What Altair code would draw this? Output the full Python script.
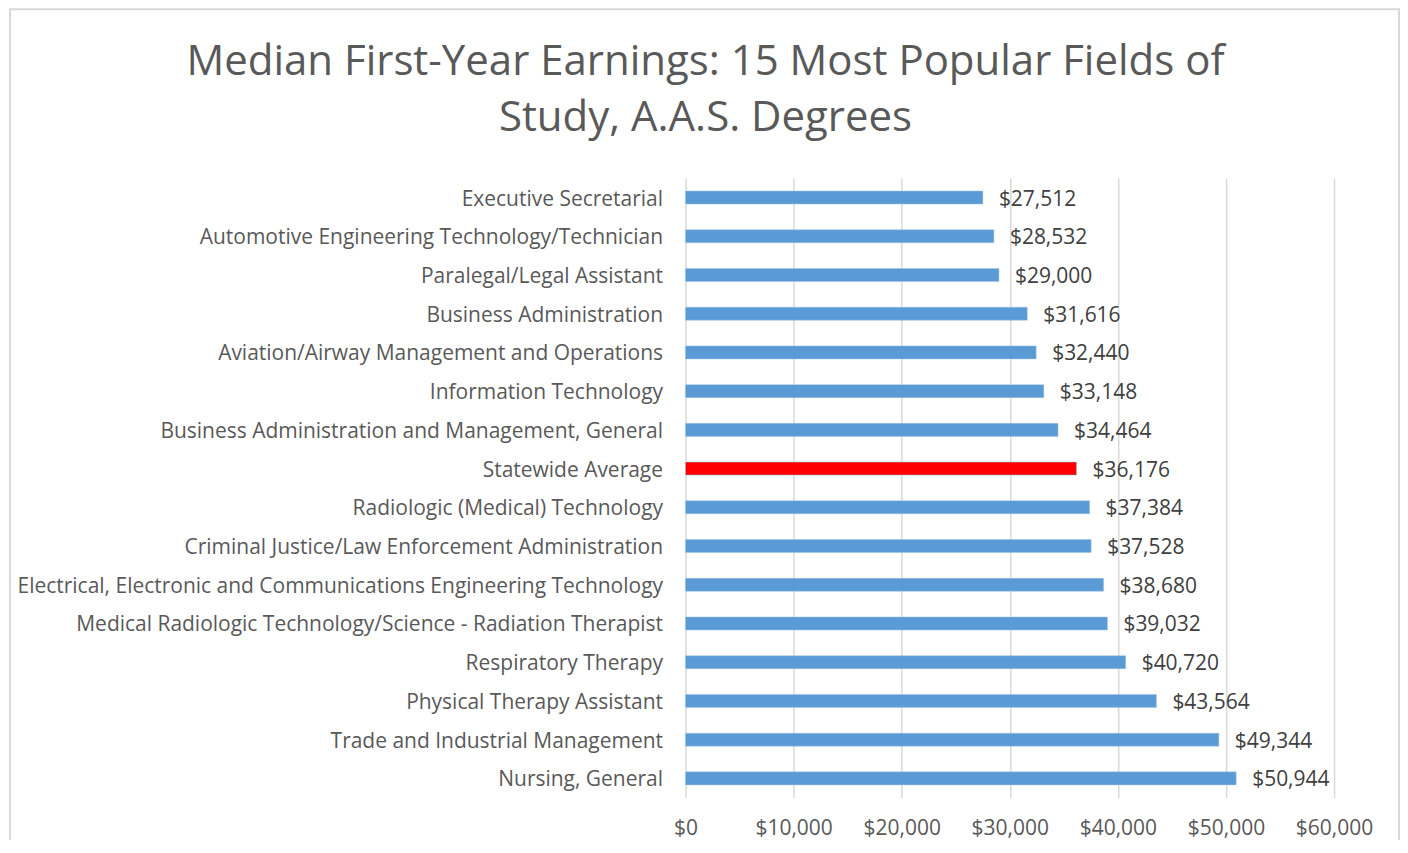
import altair as alt
import pandas as pd

categories = [
    "Executive Secretarial",
    "Automotive Engineering Technology/Technician",
    "Paralegal/Legal Assistant",
    "Business Administration",
    "Aviation/Airway Management and Operations",
    "Information Technology",
    "Business Administration and Management, General",
    "Statewide Average",
    "Radiologic (Medical) Technology",
    "Criminal Justice/Law Enforcement Administration",
    "Electrical, Electronic and Communications Engineering Technology",
    "Medical Radiologic Technology/Science - Radiation Therapist",
    "Respiratory Therapy",
    "Physical Therapy Assistant",
    "Trade and Industrial Management",
    "Nursing, General",
]
earnings = [27512, 28532, 29000, 31616, 32440, 33148, 34464, 36176,
            37384, 37528, 38680, 39032, 40720, 43564, 49344, 50944]
x_ticks = [0, 10000, 20000, 30000, 40000, 50000, 60000]
title_lines = ["Median First-Year Earnings: 15 Most Popular Fields of",
               "Study, A.A.S. Degrees"]

df = pd.DataFrame({"field": categories, "earnings": earnings})
one = pd.DataFrame({"k": [0]})

FONT = "Open Sans"
FS = 21

y_enc = alt.Y(
    "field:N",
    sort=categories,
    title=None,
    scale=alt.Scale(paddingInner=0.664, paddingOuter=0.332),
    axis=alt.Axis(labelFont=FONT, labelFontSize=FS, labelColor="#595959",
                  labelPadding=23, labelOffset=2, ticks=False, domain=False,
                  labelLimit=800),
)
x_enc = alt.X(
    "earnings:Q",
    title=None,
    scale=alt.Scale(domain=[0, 60000], nice=False),
    axis=alt.Axis(values=x_ticks, format="$,.0f", labelFont=FONT, labelFontSize=FS,
                  labelColor="#595959", labelPadding=20, ticks=False, domain=False,
                  labelOverlap=False, labelFlush=False, grid=True,
                  gridColor="#D9D9D9", gridWidth=1.5),
)

bars = alt.Chart(df).mark_bar(stroke="#9DC3E6", strokeWidth=0.5).encode(
    y=y_enc,
    x=x_enc,
    color=alt.condition(alt.datum.field == "Statewide Average",
                        alt.value("#FF0000"), alt.value("#5B9BD5")),
)

labels = alt.Chart(df).mark_text(align="left", baseline="middle", dx=16, dy=2,
                                 font=FONT, fontSize=FS, color="#404040").encode(
    y=alt.Y("field:N", sort=categories),
    x="earnings:Q",
    text=alt.Text("earnings:Q", format="$,.0f"),
)

border = alt.Chart(one).mark_rect(fill=None, stroke="#D9D9D9", strokeWidth=2, clip=False).encode(
    x=alt.value(-676), x2=alt.value(714), y=alt.value(-169), y2=alt.value(700)
)

title1 = alt.Chart(one).mark_text(align="center", baseline="alphabetic", font=FONT,
                                  fontSize=42, color="#595959").encode(
    x=alt.value(20), y=alt.value(-103), text=alt.value(title_lines[0])
)
title2 = alt.Chart(one).mark_text(align="center", baseline="alphabetic", font=FONT,
                                  fontSize=42, color="#595959").encode(
    x=alt.value(20), y=alt.value(-47), text=alt.value(title_lines[1])
)

chart = alt.layer(border, bars, labels, title1, title2).properties(
    width=649,
    height=620,
    autosize=alt.AutoSizeParams(type="none"),
    padding={"left": 678, "top": 170, "right": 66, "bottom": 42},
).configure_view(stroke=None)

chart.save("out.html", embed_options={"renderer": "svg", "actions": False})
